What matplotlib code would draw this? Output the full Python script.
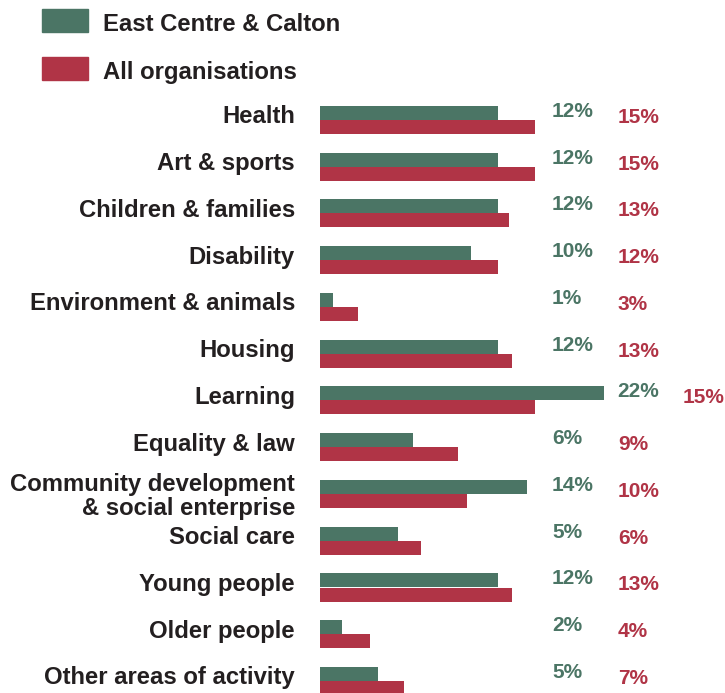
import matplotlib
matplotlib.use("Agg")
import matplotlib.pyplot as plt
from matplotlib.patches import Rectangle

plt.rcParams['font.family'] = ['Liberation Sans', 'DejaVu Sans']
plt.rcParams['font.weight'] = 'bold'

categories = ['Health', 'Art & sports', 'Children & families', 'Disability',
              'Environment & animals', 'Housing', 'Learning', 'Equality & law',
              'Community development\n& social enterprise', 'Social care',
              'Young people', 'Older people', 'Other areas of activity']
# bar lengths as drawn in the picture
east = [12.0, 12.0, 12.0, 10.2, 0.9, 12.0, 19.2, 6.3, 14.0, 5.3, 12.0, 1.5, 3.9]
allorg = [14.5, 14.5, 12.8, 12.0, 2.6, 13.0, 14.5, 9.3, 9.9, 6.8, 13.0, 3.4, 5.7]
# printed labels
east_lbl = ['12%', '12%', '12%', '10%', '1%', '12%', '22%', '6%', '14%', '5%', '12%', '2%', '5%']
all_lbl = ['15%', '15%', '13%', '12%', '3%', '13%', '15%', '9%', '10%', '6%', '13%', '4%', '7%']

green = '#4b7565'
red = '#b03446'
dark = '#231f20'

W, H = 725, 693
fig = plt.figure(figsize=(W / 100, H / 100), dpi=100)
ax = fig.add_axes([320 / W, 0, 1 - 320 / W, 1])
pxu = 14.8   # pixels per unit
rowpx = 46.75
ax.set_xlim(0, 405 / pxu)
ax.set_ylim((H - 120) / rowpx, -120 / rowpx)
ax.axis('off')

bh = 14 / rowpx
ys = list(range(len(categories)))
ax.barh([y - bh / 2 for y in ys], east, height=bh, color=green)
ax.barh([y + bh / 2 for y in ys], allorg, height=bh, color=red)

for y, cat, e, el, al in zip(ys, categories, east, east_lbl, all_lbl):
    nl = cat.count('\n')
    ax.text(-25 / pxu, y + (3.3 + 17.7 * nl) / rowpx, cat, ha='right', va='baseline',
            fontsize=17.2, color=dark, clip_on=False, linespacing=1.05)
    gx = max(232 / pxu, e + 0.87)
    rx = max(297 / pxu, gx + 66 / pxu)
    ax.text(gx, y - 3 / rowpx, el, ha='left', va='baseline', fontsize=15, color=green)
    ax.text(rx, y + 3 / rowpx, al, ha='left', va='baseline', fontsize=15, color=red)

# legend
for i, (lab, c) in enumerate([('East Centre & Calton', green), ('All organisations', red)]):
    y0 = 9 + 48 * i
    fig.patches.append(Rectangle((42 / W, 1 - (y0 + 23) / H), 46 / W, 23 / H,
                                 transform=fig.transFigure, color=c))
    fig.text(103 / W, 1 - (y0 + 22) / H, lab, ha='left', va='baseline', fontsize=17.2,
             color=dark)

fig.savefig('out.png', dpi=100, facecolor='white')
